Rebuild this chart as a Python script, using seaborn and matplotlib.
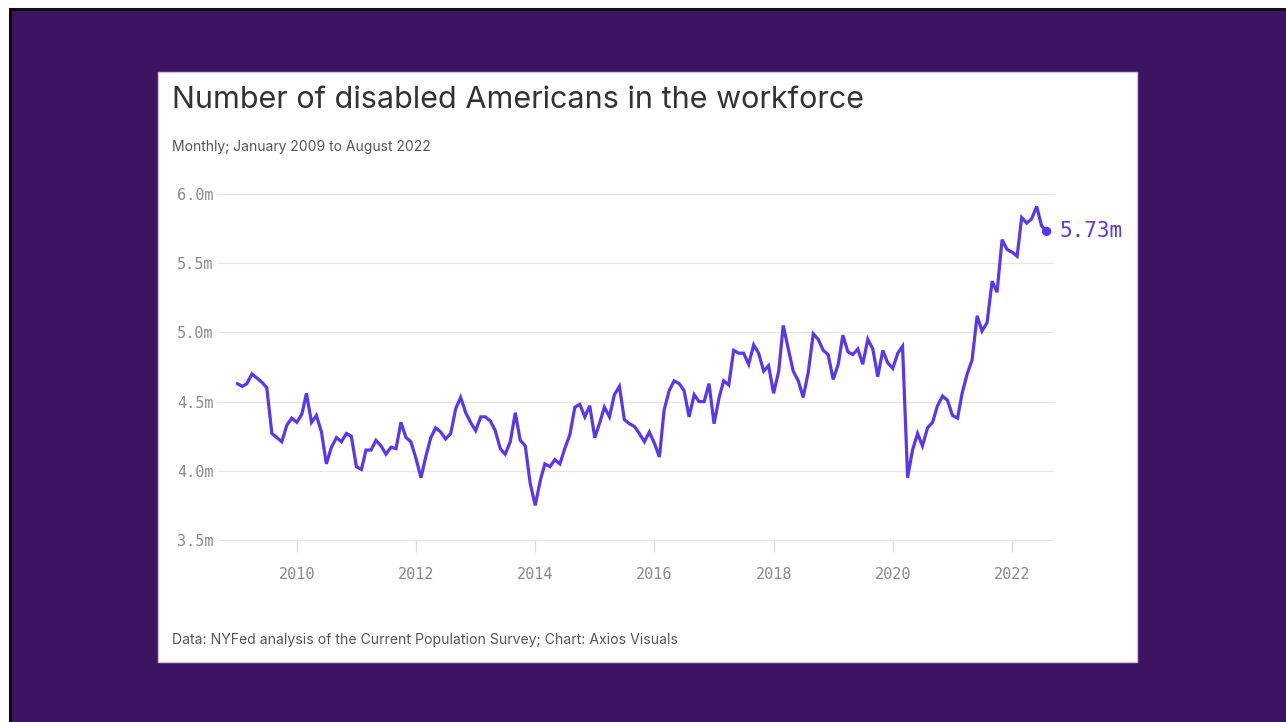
import numpy as np
import pandas as pd
import matplotlib
matplotlib.use("Agg")
import matplotlib.pyplot as plt
import matplotlib.dates as mdates
from matplotlib.patches import Rectangle
import seaborn as sns

# ---------------- data ----------------
start_month = "2009-01"
workforce_m = [
    4.63, 4.61, 4.63, 4.70, 4.67, 4.64, 4.60, 4.27, 4.24, 4.21, 4.33, 4.38,   # 2009
    4.35, 4.41, 4.56, 4.35, 4.40, 4.28, 4.05, 4.17, 4.24, 4.21, 4.27, 4.25,   # 2010
    4.03, 4.01, 4.15, 4.15, 4.22, 4.18, 4.12, 4.17, 4.16, 4.35, 4.24, 4.21,   # 2011
    4.09, 3.95, 4.10, 4.24, 4.31, 4.28, 4.23, 4.27, 4.45, 4.53, 4.42, 4.35,   # 2012
    4.29, 4.39, 4.39, 4.36, 4.29, 4.16, 4.12, 4.21, 4.42, 4.22, 4.18, 3.91,   # 2013
    3.75, 3.93, 4.05, 4.03, 4.08, 4.05, 4.16, 4.26, 4.46, 4.48, 4.39, 4.47,   # 2014
    4.24, 4.35, 4.46, 4.39, 4.55, 4.61, 4.37, 4.34, 4.32, 4.27, 4.21, 4.28,   # 2015
    4.20, 4.10, 4.44, 4.58, 4.65, 4.63, 4.58, 4.39, 4.55, 4.50, 4.50, 4.63,   # 2016
    4.34, 4.53, 4.65, 4.62, 4.87, 4.85, 4.85, 4.77, 4.91, 4.85, 4.72, 4.76,   # 2017
    4.56, 4.72, 5.05, 4.88, 4.72, 4.65, 4.53, 4.71, 4.99, 4.95, 4.87, 4.84,   # 2018
    4.66, 4.77, 4.98, 4.86, 4.84, 4.88, 4.77, 4.95, 4.88, 4.68, 4.87, 4.78,   # 2019
    4.74, 4.85, 4.90, 3.95, 4.15, 4.27, 4.18, 4.31, 4.35, 4.47, 4.54, 4.51,   # 2020
    4.40, 4.38, 4.56, 4.70, 4.80, 5.12, 5.01, 5.07, 5.37, 5.29, 5.67, 5.60,   # 2021
    5.58, 5.55, 5.83, 5.79, 5.82, 5.91, 5.77, 5.73,                           # 2022 (Jan-Aug)
]
y_ticks = [3.5, 4.0, 4.5, 5.0, 5.5, 6.0]
y_tick_labels = ["3.5m", "4.0m", "4.5m", "5.0m", "5.5m", "6.0m"]
x_tick_years = [2010, 2012, 2014, 2016, 2018, 2020, 2022]
x_tick_labels = ["2010", "2012", "2014", "2016", "2018", "2020", "2022"]
title = "Number of disabled Americans in the workforce"
subtitle = "Monthly; January 2009 to August 2022"
source = "Data: NYFed analysis of the Current Population Survey; Chart: Axios Visuals"

dates = pd.date_range(start_month, periods=len(workforce_m), freq="MS")
df = pd.DataFrame({"date": dates, "value": workforce_m})

# ---------------- style ----------------
sns.set_theme(style="white")
plt.rcParams['font.family'] = ['Inter', 'DejaVu Sans']
MONO = ['DejaVu Sans Mono']
LINE = "#5a36f0"
BG = "#3d1462"

W, H = 1286, 722
fig = plt.figure(figsize=(W / 100, H / 100), dpi=100)
fig.patch.set_facecolor("white")

def fx(px):
    return px / W

def fy(py):
    return 1 - py / H

# purple backdrop with dark border on top/left
fig.add_artist(Rectangle((fx(9.5), -0.05), 1.2, fy(8.5) + 0.05,
                         transform=fig.transFigure, facecolor=BG,
                         edgecolor="#0d0d0d", linewidth=2.2, zorder=-3))
# white card
fig.add_artist(Rectangle((fx(158), fy(662)), fx(1137) - fx(158), fy(72) - fy(662),
                         transform=fig.transFigure, facecolor="white",
                         edgecolor="#cfc3dc", linewidth=1.0, zorder=-2))

ax = fig.add_axes([fx(218), fy(540), fx(1053) - fx(218), fy(194) - fy(540)])
ax.set_facecolor("none")

sns.lineplot(data=df, x="date", y="value", ax=ax, color=LINE, linewidth=2.3,
             solid_joinstyle="miter")
last = df.iloc[-1]
sns.scatterplot(x=[last["date"]], y=[last["value"]], ax=ax, color=LINE, s=45,
                edgecolor="none", zorder=5)
ax.annotate(f"{last['value']:.2f}m", xy=(last["date"], last["value"]),
            xytext=(9, 0), textcoords="offset points", va="center", ha="left",
            color=LINE, fontsize=15, family=MONO, annotation_clip=False)

ax.set_ylim(3.5, 6.0)
ax.set_xlim(pd.Timestamp("2008-09-05"), pd.Timestamp("2022-09-09"))
ax.set_yticks(y_ticks)
ax.set_yticklabels(y_tick_labels, family=MONO, fontsize=11, color="#8a8a8a")
ax.set_xticks([pd.Timestamp(f"{y}-01-01") for y in x_tick_years])
ax.set_xticklabels(x_tick_labels, family=MONO, fontsize=11, color="#8a8a8a")
ax.set_xlabel("")
ax.set_ylabel("")
ax.yaxis.grid(True, color="#e6e6e6", linewidth=1.0)
ax.xaxis.grid(False)
for gl in ax.yaxis.get_gridlines():
    gl.set_clip_on(False)
for s in ax.spines.values():
    s.set_visible(False)
ax.tick_params(axis="y", length=0, pad=3)
ax.tick_params(axis="x", length=8.6, width=1.0, color="#dcdcdc", pad=11, direction="out")
ax.xaxis.set_tick_params(bottom=True)

fig.text(fx(172), fy(108.5), title, fontsize=22, color="#333333", va="baseline", ha="left")
fig.text(fx(172), fy(151.5), subtitle, fontsize=10, color="#555555", va="baseline", ha="left")
fig.text(fx(172), fy(644), source, fontsize=10.1, color="#555555", va="baseline", ha="left")

fig.savefig("out.png", dpi=100, facecolor=fig.get_facecolor())
